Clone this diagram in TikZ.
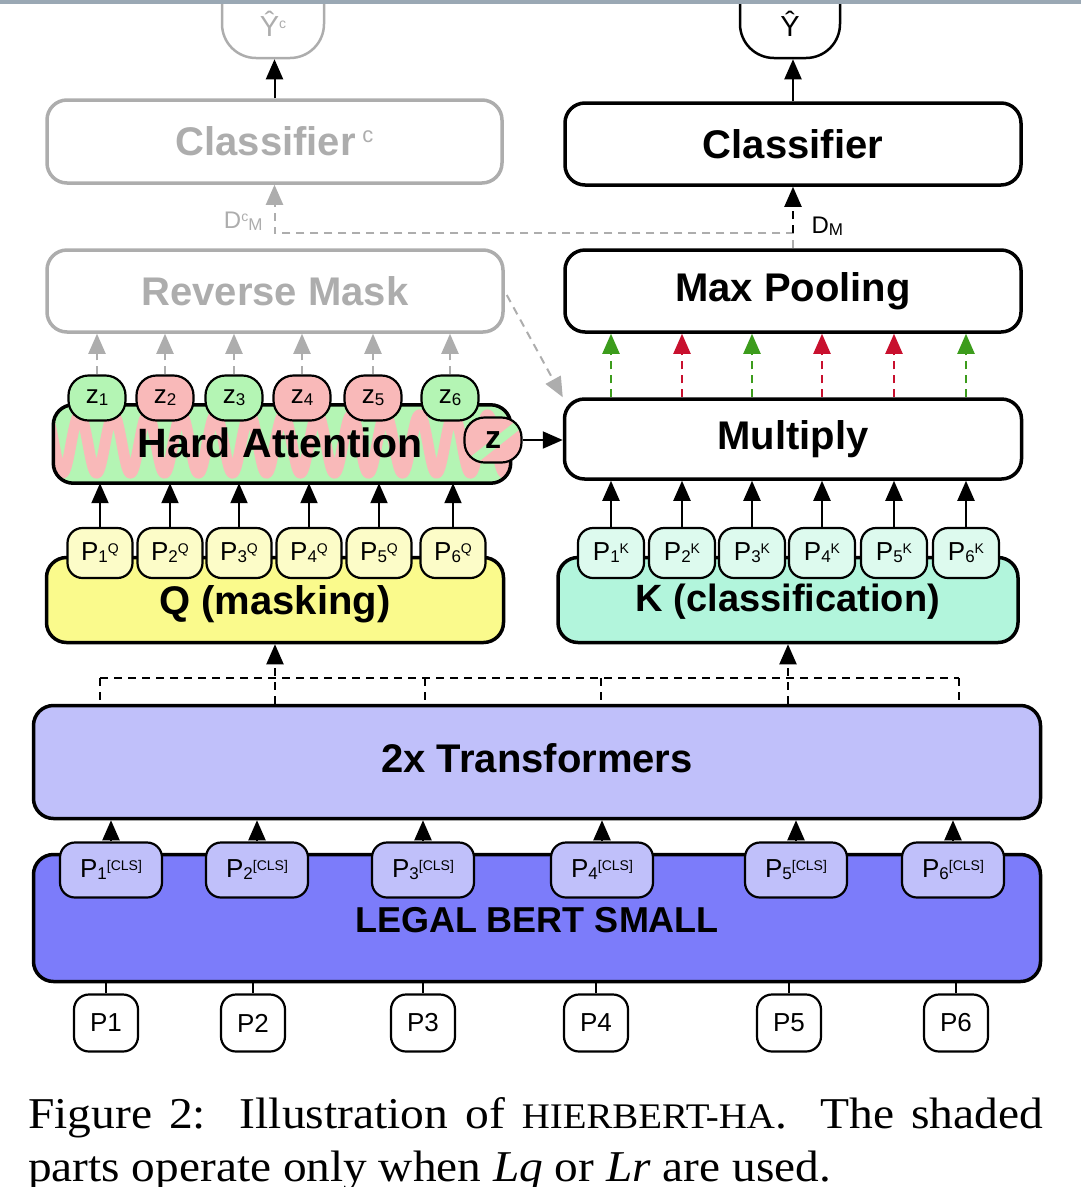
\documentclass[tikz,border=0pt]{standalone}
\usepackage{fontspec}
\setmainfont{Liberation Sans}
\newfontfamily\capfont{Liberation Serif}
\usetikzlibrary{arrows.meta,calc}
\definecolor{shadecol}{HTML}{ADADAD}
\definecolor{qyel}{HTML}{FAFA8C}
\definecolor{qyell}{HTML}{FCFCC8}
\definecolor{kmint}{HTML}{B2F5DC}
\definecolor{kmintl}{HTML}{DDFAEE}
\definecolor{transc}{HTML}{C0C0FA}
\definecolor{bertc}{HTML}{7C7CFA}
\definecolor{zgreen}{HTML}{B4F5B4}
\definecolor{zpink}{HTML}{F9B9B9}
\definecolor{agreen}{HTML}{3C9C1C}
\definecolor{ared}{HTML}{C8102E}
\definecolor{topbar}{HTML}{9AA8B4}
\newcommand{\mysub}[1]{\raisebox{-2pt}{\fontsize{17}{17}\selectfont\mdseries #1}}
\newcommand{\mysup}[1]{\raisebox{7pt}{\fontsize{14}{14}\selectfont\mdseries #1}}
\newcommand{\lbl}[2]{P\mysub{#1}\mysup{#2}}
\begin{document}
\begin{tikzpicture}[x=1pt,y=-1pt,
  bigbox/.style={draw, line width=3.5pt, rounded corners=20pt, inner sep=0pt, font=\fontsize{40}{40}\selectfont\bfseries},
  graybox/.style={bigbox, draw=shadecol, text=shadecol},
  boxlabel/.style={font=\fontsize{40}{40}\selectfont\bfseries, inner sep=0pt},
  smallnode/.style={draw, line width=2.2pt, rounded corners=15pt, inner sep=0pt, font=\fontsize{26}{26}\selectfont},
  qnode/.style={smallnode, fill=qyell, minimum width=65pt, minimum height=50pt},
  knode/.style={smallnode, fill=kmintl, minimum width=66pt, minimum height=50pt},
  clsnode/.style={smallnode, fill=transc, minimum width=102pt, minimum height=55pt},
  innode/.style={smallnode, fill=white, minimum width=64pt, minimum height=57pt},
  znode/.style={smallnode, rounded corners=20pt, minimum width=57pt, minimum height=45pt, font=\fontsize{26}{26}\selectfont},
  arrowtip/.style={-{Triangle[length=20pt,width=17pt]}},
  arr/.style={line width=2pt, arrowtip},
  dasharr/.style={arr, dash pattern=on 8pt off 6pt},
  dline/.style={line width=2pt, dash pattern=on 8pt off 6pt},
]
\useasboundingbox (0,0) rectangle (1081,1187);

% ---------- output nodes ----------
\node[draw=shadecol, line width=2.5pt, rounded corners=34pt, minimum width=102pt, minimum height=92pt] (yc) at (273,12) {};
\node[text=shadecol, font=\fontsize{29}{29}\selectfont] (yclbl) at (273,24) {Ŷ\raisebox{8pt}{\fontsize{14}{14}\selectfont c}};
\node[draw, line width=2.5pt, rounded corners=34pt, minimum width=100pt, minimum height=92pt] (yy) at (790,12) {};
\node[font=\fontsize{29}{29}\selectfont] (yylbl) at (790,24) {Ŷ};

% ---------- classifier row ----------
\node[graybox, minimum width=455pt, minimum height=83pt] (clsc) at (274.5,141.5) {Classifier\,\raisebox{13pt}{\fontsize{22}{22}\selectfont\mdseries c}};
\node[bigbox, minimum width=456pt, minimum height=82pt] (cls) at (793,144) {Classifier};

\draw[arr] (clsc.north) -- (clsc.north |- yc.south);
\draw[arr] (cls.north) -- (cls.north |- yy.south);

% ---------- reverse mask / max pooling ----------
\node[graybox, minimum width=456pt, minimum height=82pt] (rmask) at (275,291) {Reverse Mask};
\node[bigbox, minimum width=456pt, minimum height=82pt] (maxpool) at (793,291) {Max Pooling};

\coordinate (dj) at (793,233);
\draw[dasharr, draw=shadecol] (maxpool.north) -- (dj) -| (clsc.south);
\draw[dasharr] (dj) -- (cls.south);
\node[font=\fontsize{24}{24}\selectfont, anchor=west] (dm) at (808,226) {D\mysub{M}};
\node[font=\fontsize{24}{24}\selectfont, text=shadecol, anchor=east] (dcm) at (266,221) {D\raisebox{7pt}{\fontsize{14}{14}\selectfont c}\mysub{M}};

% ---------- multiply ----------
\node[bigbox, minimum width=457pt, minimum height=80pt] (multiply) at (793,439) {Multiply};

% ---------- hard attention ----------
\node[fill=zgreen, rounded corners=20pt, minimum width=457pt, minimum height=78pt, inner sep=0pt] (hard) at (282,444) {};
\begin{scope}
\clip[rounded corners=20pt] (hard.south west) rectangle (hard.north east);
\draw[zpink, line width=11pt] plot[domain=40:530, samples=900] (\x, {444+29*sin(((\x-54)/34)*360)});
\end{scope}
\draw[line width=3.5pt, rounded corners=20pt] (hard.south west) rectangle (hard.north east);
\node[font=\fontsize{41}{41}\selectfont\bfseries] (hardlbl) at (280,443) {Hard Attention};

\node[znode, fill=zgreen] (z1) at (97,398) {z\mysub{1}};
\node[znode, fill=zpink]  (z2) at (165,398) {z\mysub{2}};
\node[znode, fill=zgreen] (z3) at (234,398) {z\mysub{3}};
\node[znode, fill=zpink]  (z4) at (302,398) {z\mysub{4}};
\node[znode, fill=zpink]  (z5) at (373,398) {z\mysub{5}};
\node[znode, fill=zgreen] (z6) at (450,398) {z\mysub{6}};

\node[znode, fill=zpink, font=\fontsize{32}{32}\selectfont\bfseries,
  path picture={\draw[zgreen, line width=9pt] ($(path picture bounding box.south west)+(6,0)$) -- ($(path picture bounding box.north east)+(6,0)$);}] (zz) at (493,440) {z};
\draw[arr] (zz.east) -- (multiply.west |- zz.east);

\foreach \i in {1,...,6} {
  \draw[dasharr, draw=shadecol] (z\i.north) -- (z\i.north |- rmask.south);
}
\draw[dasharr, draw=shadecol] ($(rmask.east)+(2,4)$) -- (multiply.north west);

% ---------- Q and K ----------
\node[bigbox, fill=qyel, minimum width=457pt, minimum height=85pt] (qbox) at (275,600) {};
\node[bigbox, fill=kmint, minimum width=460pt, minimum height=85pt] (kbox) at (788,600) {};
\node[boxlabel] (qlbl) at (275,604) {Q (masking)};
\node[boxlabel, font=\fontsize{38}{38}\selectfont\bfseries] (klbl) at (788,602) {K (classification)};

\node[qnode] (pq1) at (100,553) {\lbl{1}{Q}};
\node[qnode] (pq2) at (170,553) {\lbl{2}{Q}};
\node[qnode] (pq3) at (239,553) {\lbl{3}{Q}};
\node[qnode] (pq4) at (309,553) {\lbl{4}{Q}};
\node[qnode] (pq5) at (379,553) {\lbl{5}{Q}};
\node[qnode] (pq6) at (453,553) {\lbl{6}{Q}};

\node[knode] (pk1) at (611,553) {\lbl{1}{K}};
\node[knode] (pk2) at (682,553) {\lbl{2}{K}};
\node[knode] (pk3) at (752,553) {\lbl{3}{K}};
\node[knode] (pk4) at (822,553) {\lbl{4}{K}};
\node[knode] (pk5) at (894,553) {\lbl{5}{K}};
\node[knode] (pk6) at (966,553) {\lbl{6}{K}};

\foreach \i in {1,...,6} {
  \draw[arr] (pq\i.north) -- (pq\i.north |- hard.south);
  \draw[arr] (pk\i.north) -- (pk\i.north |- multiply.south);
}

\foreach \i/\c in {1/agreen,2/ared,3/agreen,4/ared,5/ared,6/agreen} {
  \draw[dasharr, draw=\c] (pk\i.north |- multiply.north) -- (pk\i.north |- maxpool.south);
}

% ---------- transformers ----------
\node[bigbox, fill=transc, minimum width=1007pt, minimum height=113pt] (trans) at (537,762) {};
\node[boxlabel] (translbl) at (537,758) {2x Transformers};

\coordinate (t1) at (100,678);
\coordinate (t2) at (425,678);
\coordinate (t3) at (601,678);
\coordinate (t4) at (959,678);
\draw[dline] (t1) -- (t4);
\foreach \t in {t1,t2,t3,t4} {
  \draw[dline] (\t) -- (\t |- trans.north);
}
\draw[dasharr] (qbox.south |- trans.north) -- (qbox.south);
\draw[dasharr] (kbox.south |- trans.north) -- (kbox.south);

% ---------- legal bert ----------
\node[bigbox, fill=bertc, minimum width=1007pt, minimum height=127pt] (bert) at (537,918) {};
\node[boxlabel, font=\fontsize{36}{36}\selectfont\bfseries] (bertlbl) at (537,920) {LEGAL BERT SMALL};

\node[clsnode] (c1) at (111,870) {\lbl{1}{[CLS]}};
\node[clsnode] (c2) at (257,870) {\lbl{2}{[CLS]}};
\node[clsnode] (c3) at (423,870) {\lbl{3}{[CLS]}};
\node[clsnode] (c4) at (602,870) {\lbl{4}{[CLS]}};
\node[clsnode] (c5) at (796,870) {\lbl{5}{[CLS]}};
\node[clsnode] (c6) at (953,870) {\lbl{6}{[CLS]}};

\node[innode] (p1) at (106,1023) {P1};
\node[innode] (p2) at (253,1023) {P2};
\node[innode] (p3) at (423,1023) {P3};
\node[innode] (p4) at (596,1023) {P4};
\node[innode] (p5) at (789,1023) {P5};
\node[innode] (p6) at (956,1023) {P6};

\foreach \i in {1,...,6} {
  \draw[arr] (c\i.north) -- (c\i.north |- trans.south);
  \draw[line width=2pt] (p\i.north) -- (p\i.north |- bert.south);
}

% ---------- caption ----------
\node[anchor=base west, inner sep=0pt, font=\capfont\fontsize{44}{44}\selectfont] (cap1) at (28,1128)
  {\scalebox{1.08}[1]{\makebox[940pt][s]{Figure 2:\ \ Illustration of {\fontsize{36}{36}\selectfont HIERBERT-HA}.\ \ The shaded}}};
\node[anchor=base west, inner sep=0pt, font=\capfont\fontsize{44}{44}\selectfont] (cap2) at (28,1181)
  {\scalebox{1.075}[1]{parts operate only when \textit{Lq} or \textit{Lr} are used.}};

\fill[topbar] (0,0) rectangle (1081,4);
\end{tikzpicture}
\end{document}
